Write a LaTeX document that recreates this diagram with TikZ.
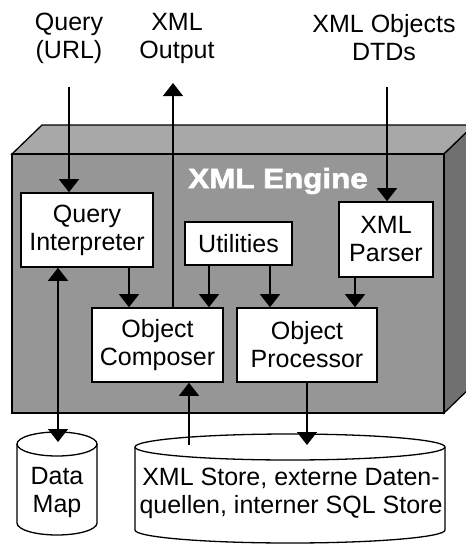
\documentclass[tikz,border=0pt]{standalone}
\usepackage{fontspec}
\setmainfont{Liberation Sans}
\newfontfamily\enginefont[FakeStretch=1.12, FakeBold=2]{Liberation Sans}
\usetikzlibrary{
    arrows.meta,
    positioning
}
\definecolor{enginetop}{gray}{0.66}
\definecolor{enginefront}{gray}{0.59}
\definecolor{engineside}{gray}{0.44}

\begin{document}
\begin{tikzpicture}[x=1pt, y=-1pt,
        txt/.style={align=center, inner sep=0pt, font=\fontsize{25}{28}\selectfont},
        box/.style={txt, draw, fill=white, line width=1.6pt},
        arr/.style={line width=1.3pt, -{Triangle[length=13pt, width=20pt]}},
        dbl/.style={line width=1.3pt, {Triangle[length=13pt, width=20pt]}-{Triangle[length=13pt, width=20pt]}},
        can/.style={draw, fill=white, line width=1.3pt}]
                        \useasboundingbox (0,0) rectangle (466,544);
                        \clip (0,0) rectangle (466,544);

                        % engine block
                        \filldraw[fill=enginetop, line width=1.3pt] (12,154) -- (42,125) -- (474,125) -- (444,154) -- cycle;
                        \filldraw[fill=engineside, line width=1.3pt] (444,154) -- (474,125) -- (474,384) -- (444,413) -- cycle;
                        \filldraw[fill=enginefront, line width=1.3pt] (12,154) rectangle (444,413);
                        \node[white, font=\enginefont\bfseries\fontsize{28}{30}\selectfont] (engine) at (278,181) {XML Engine};

                        % inputs and outputs
                        \node[txt] (query) at (69,38) {Query\\(URL)};
                        \node[txt] (xml) at (177,38) {XML\\Output};
                        \node[txt] (objs) at (384,38) {XML Objects\\DTDs};
                        \coordinate (qend) at (69,87);
                        \coordinate (oend) at (173,83);
                        \coordinate (dend) at (387,87);

                        \node[box, minimum width=132pt, minimum height=74pt] (qi) at (87,230) {Query\\Interpreter};
                        \node[box, minimum width=107pt, minimum height=43pt] (util) at (238.5,243.5) {Utilities};
                        \node[box, minimum width=94pt, minimum height=75pt] (parser) at (386,239.5) {XML\\Parser};
                        \node[box, minimum width=131pt, minimum height=74pt] (comp) at (157.5,345) {Object\\Composer};
                        \node[box, minimum width=140pt, minimum height=74pt] (proc) at (307,345) {Object\\Processor};

                        % stores
                        \filldraw[can] (17,444) -- (17,523) arc[start angle=180, end angle=0, x radius=40, y radius=12]
                            -- (97,444) arc[start angle=0, end angle=-180, x radius=40, y radius=12] -- cycle;
                        \draw[line width=1.3pt] (17,444) arc[start angle=180, end angle=0, x radius=40, y radius=12];
                        \filldraw[can] (135,447) -- (135,530) arc[start angle=180, end angle=0, x radius=155, y radius=13]
                            -- (445,447) arc[start angle=0, end angle=-180, x radius=155, y radius=13] -- cycle;
                        \draw[line width=1.3pt] (135,447) arc[start angle=180, end angle=0, x radius=155, y radius=13];
                        \node[txt] (map) at (57,492) {Data\\Map};
                        \node[txt] (store) at (291,493) {XML Store, externe Daten-\\quellen, interner SQL Store};
                        \coordinate (maptop) at (58,442);
                        \coordinate (storetop) at (290,445);

                        \draw[arr] (qend) -- (qend |- qi.north);
                        \draw[arr] (comp.north -| oend) -- (oend);
                        \draw[arr] (dend) -- (dend |- parser.north);
                        \draw[arr] ([xshift=42pt]qi.south) -- ([xshift=42pt]qi.south |- comp.north);
                        \draw[arr] ([xshift=-29.5pt]util.south) -- ([xshift=-29.5pt]util.south |- comp.north);
                        \draw[arr] ([xshift=31.5pt]util.south) -- ([xshift=31.5pt]util.south |- proc.north);
                        \draw[arr] ([xshift=-31pt]parser.south) -- ([xshift=-31pt]parser.south |- proc.north);
                        \draw[dbl] (qi.south -| maptop) -- (maptop);
                        \draw[arr] ([xshift=31.5pt]comp.south |- storetop) -- ([xshift=31.5pt]comp.south);
                        \draw[arr] (proc.south) -- (proc.south |- storetop);
                    \end{tikzpicture}
\end{document}
